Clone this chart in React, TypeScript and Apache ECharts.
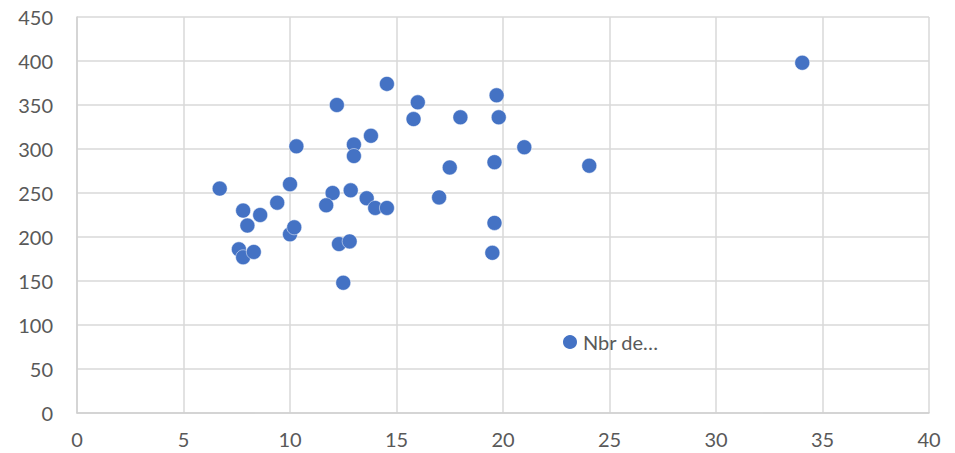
import React, { useEffect, useRef } from "react";
import * as echarts from "echarts";

const seriesName = "Nbr de…";
const xValues = [6.7, 7.8, 8.0, 7.6, 7.8, 8.3, 8.6, 9.4, 10.0, 10.0, 10.2, 10.3, 12.2, 12.0, 11.7, 12.3, 12.8, 12.5, 12.85, 13.0, 13.0, 13.8, 13.6, 14.0, 14.55, 14.55, 16.0, 15.8, 18.0, 19.7, 19.8, 21.0, 17.5, 19.6, 17.0, 19.6, 19.5, 24.05, 34.05];
const yValues = [255, 230, 213, 186, 177, 183, 225, 239, 260, 203, 211, 303, 350, 250, 236, 192, 195, 148, 253, 305, 292, 315, 244, 233, 233, 374, 353, 334, 336, 361, 336, 302, 279, 285, 245, 216, 182, 281, 398];

export default function App() {
  const ref = useRef<HTMLDivElement>(null);
  useEffect(() => {
    if (!ref.current) return;
    const chart = echarts.init(ref.current, null, { renderer: "svg" });
    const data = xValues.map((x, i) => [x, yValues[i]]);
    const textStyle = { color: "#595959", fontFamily: "Lato", fontSize: 20 };
    chart.setOption({
      animation: false,
      backgroundColor: "#ffffff",
      grid: { left: 77, right: 26, top: 17, bottom: 40, containLabel: false },
      legend: {
        show: true,
        left: 556,
        top: 327,
        icon: "circle",
        itemWidth: 16,
        itemHeight: 16,
        itemGap: 6,
        textStyle: { ...textStyle },
        data: [seriesName],
      },
      xAxis: {
        type: "value",
        min: 0,
        max: 40,
        interval: 5,
        axisLine: { show: true, lineStyle: { color: "#d0d0d0", width: 1.5 } },
        axisTick: { show: false },
        axisLabel: { ...textStyle, margin: 16, lineHeight: 20 },
        splitLine: { show: true, lineStyle: { color: "#d9d9d9", width: 1.5 } },
      },
      yAxis: {
        type: "value",
        min: 0,
        max: 450,
        interval: 50,
        axisLine: { show: true, lineStyle: { color: "#d0d0d0", width: 1.5 } },
        axisTick: { show: false },
        axisLabel: { ...textStyle, margin: 24 },
        splitLine: { show: true, lineStyle: { color: "#d9d9d9", width: 1.5 } },
      },
      series: [
        {
          name: seriesName,
          type: "scatter",
          symbol: "circle",
          symbolSize: 15,
          itemStyle: { color: "#4472C4", borderColor: "#ffffff", borderWidth: 0.5, opacity: 1 },
          data,
        },
      ],
    });
    return () => chart.dispose();
  }, []);
  return (
    <div
      ref={ref}
      style={{ position: "fixed", left: 0, top: 0, width: 955, height: 453, background: "#fff" }}
    />
  );
}
